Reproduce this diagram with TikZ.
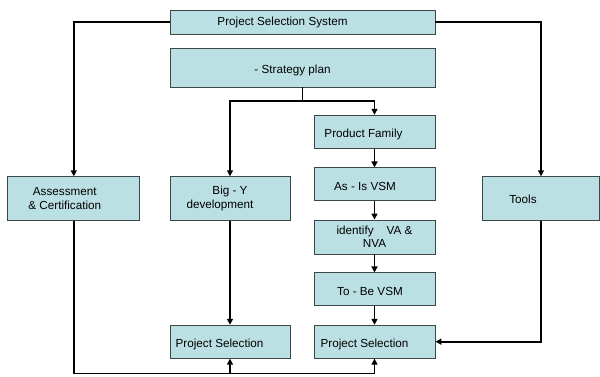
\documentclass[tikz,border=0pt]{standalone}
\usepackage{fontspec}
\setmainfont{Liberation Sans}
\usetikzlibrary{arrows.meta}
\usetikzlibrary{positioning}

\definecolor{boxfill}{HTML}{BBE0E3}
\definecolor{boxline}{HTML}{3C4848}

\tikzset{
    stagebox/.style={draw=boxline, line width=0.9pt, fill=boxfill, inner sep=0pt,
        font=\fontsize{11.7}{13.5}\selectfont},
    lowtext/.style={text height=15pt, text depth=3pt},
    flow/.style={line width=1.6pt, -{Triangle[length=6pt,width=6pt]}}
}

\begin{document}
\begin{tikzpicture}[x=1pt, y=-1pt]
        % canvas
        \useasboundingbox (0,0) rectangle (600,376);

        % Top row
        \node[stagebox, minimum width=265pt, minimum height=24pt] (system) at (302.5,22) {Project Selection System\hspace*{40pt}};
        \node[stagebox, lowtext, minimum width=265pt, minimum height=39pt] (strategy) at (302.5,67.5) {- Strategy plan\hspace*{20pt}};

        % Side branches
        \node[stagebox, minimum width=132pt, minimum height=43.5pt, align=center] (assess) at (73.8,198.5) {Assessment\hspace*{18pt}\\ \& Certification\hspace*{18pt}};
        \node[stagebox, minimum width=120pt, minimum height=43.5pt, align=center] (bigy) at (230,198.5) {Big - Y\\ development\hspace*{20pt}};
        \node[stagebox, text height=12pt, text depth=3pt, minimum width=117pt, minimum height=43.5pt] (tools) at (541,198.5) {Tools\hspace*{36pt}};

        % Value stream column
        \node[stagebox, lowtext, minimum width=121pt, minimum height=33pt] (family) at (374.5,131.7) {Product Family\hspace*{22pt}};
        \node[stagebox, lowtext, minimum width=121pt, minimum height=33pt] (asis) at (374.5,184.4) {As - Is VSM\hspace*{19pt}};
        \node[stagebox, minimum width=121pt, minimum height=34pt, align=center] (vanva) at (374.5,237) {identify \ \ \ VA \&\\ NVA};
        \node[stagebox, lowtext, minimum width=121pt, minimum height=33pt] (tobe) at (374.5,289.4) {To - Be VSM\hspace*{9pt}};

        % Bottom row
        \node[stagebox, lowtext, minimum width=120pt, minimum height=33pt] (selleft) at (230,341.7) {Project Selection\hspace*{21pt}};
        \node[stagebox, lowtext, minimum width=121pt, minimum height=33pt] (selright) at (374.5,341.7) {Project Selection\hspace*{20pt}};

        % Helper points for the elbows
        \coordinate (fork) at (302.5,100.7);
        \coordinate (floor) at (73.8,373.3);

        % Connectors
        \draw[flow] (system.west) -| (assess.north);
        \draw[flow] (system.east) -| (tools.north);
        \draw[flow] (strategy.south) -- (fork) -| (bigy.north);
        \draw[flow] (fork) -| (family.north);
        \draw[flow] (family) -- (asis);
        \draw[flow] (asis) -- (vanva);
        \draw[flow] (vanva) -- (tobe);
        \draw[flow] (tobe) -- (selright);
        \draw[flow] (bigy) -- (selleft);
        \draw[flow] (tools.south) |- (selright.east);
        \draw[flow] (assess.south) -- (floor) -| (selright.south);
        \draw[flow] (selleft.south |- floor) -- (selleft.south);
\end{tikzpicture}
\end{document}
